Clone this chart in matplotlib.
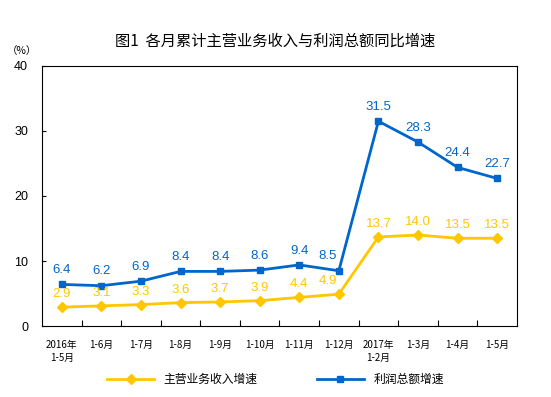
import matplotlib
matplotlib.use("Agg")
import matplotlib.pyplot as plt

plt.rcParams['font.family'] = ['Noto Sans CJK SC', 'DejaVu Sans']

categories = ["2016年\n1-5月", "1-6月", "1-7月", "1-8月", "1-9月", "1-10月", "1-11月",
              "1-12月", "2017年\n1-2月", "1-3月", "1-4月", "1-5月"]
revenue = [2.9, 3.1, 3.3, 3.6, 3.7, 3.9, 4.4, 4.9, 13.7, 14.0, 13.5, 13.5]
profit = [6.4, 6.2, 6.9, 8.4, 8.4, 8.6, 9.4, 8.5, 31.5, 28.3, 24.4, 22.7]
yticks = [0, 10, 20, 30, 40]

yellow = "#FFC700"
blue = "#0066CC"
num_font = ['Liberation Sans', 'DejaVu Sans']

fig = plt.figure(figsize=(5.51, 3.97), dpi=100)
ax = fig.add_axes([0.0762, 0.1788, 0.862, 0.655])

x = list(range(len(categories)))
ax.plot(x, revenue, color=yellow, lw=2, marker="D", ms=5.5, label="主营业务收入增速")
ax.plot(x, profit, color=blue, lw=2, marker="s", ms=5, label="利润总额增速")

for xi, v in zip(x, revenue):
    dx = -8 if xi == 7 else 0
    ax.annotate(f"{v:.1f}", (xi, v), xytext=(dx, 5), textcoords="offset points",
                ha="center", va="bottom", color=yellow, fontsize=9.5, family=num_font)
for xi, v in zip(x, profit):
    dx = -8 if xi == 7 else 0
    ax.annotate(f"{v:.1f}", (xi, v), xytext=(dx, 6), textcoords="offset points",
                ha="center", va="bottom", color=blue, fontsize=9.5, family=num_font)

ax.set_xlim(-0.5, len(categories) - 0.5)
ax.set_ylim(0, 40)
ax.set_yticks(yticks)
ax.set_yticklabels([str(t) for t in yticks], fontsize=9, family=num_font)
ax.tick_params(axis="y", direction="in", length=3, pad=10)

ax.set_xticks([i + 0.5 for i in range(len(categories) - 1)])
ax.set_xticklabels([])
ax.set_xticks(x, minor=True)
ax.set_xticklabels(categories, minor=True, fontsize=7, linespacing=1.4, va="top")
ax.tick_params(axis="x", which="major", direction="in", length=4)
ax.tick_params(axis="x", which="minor", length=0, pad=10)

for s in ax.spines.values():
    s.set_linewidth(0.8)

fig.text(0.5, 0.897, "图1  各月累计主营业务收入与利润总额同比增速", ha="center", va="center",
         fontsize=11, fontweight="medium")
fig.text(0.04, 0.872, "（%）", ha="center", va="center", fontsize=7.5)

leg = fig.legend(loc="center", bbox_to_anchor=(0.5, 0.045), ncol=2, frameon=False,
                 fontsize=8.5, columnspacing=5, handlelength=4)

fig.savefig("out.png", dpi=100)
